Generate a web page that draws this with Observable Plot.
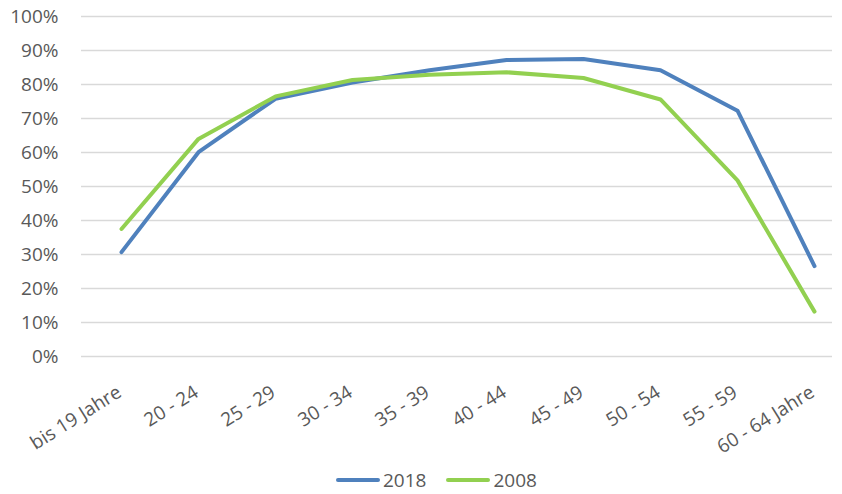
<!DOCTYPE html>
<html>
<head>
<meta charset="utf-8">
<script src="https://cdn.jsdelivr.net/npm/d3@7"></script>
<script src="https://cdn.jsdelivr.net/npm/@observablehq/plot@0.6"></script>
<style>
  body { margin: 0; background: #fff; font-family: "Open Sans", sans-serif; }
  #wrap { position: relative; width: 842px; height: 494px; }
  #legend { position: absolute; left: 336px; top: 467px; display: flex; align-items: center; font-size: 19px; color: #595959; line-height: 26px; height: 26px; }
  .sw { width: 44px; height: 4px; border-radius: 2px; margin-right: 3px; }
  .item { display: flex; align-items: center; margin-right: 20px; }
</style>
</head>
<body>
<div id="wrap">
  <div id="chart"></div>
  <div id="legend"></div>
</div>
<script>
const categories = ["bis 19 Jahre", "20 - 24", "25 - 29", "30 - 34", "35 - 39", "40 - 44", "45 - 49", "50 - 54", "55 - 59", "60 - 64 Jahre"];
const values2018 = [30.7, 60.1, 75.8, 80.6, 84.2, 87.2, 87.5, 84.2, 72.3, 26.6];
const values2008 = [37.5, 64.0, 76.5, 81.3, 82.9, 83.6, 81.9, 75.6, 51.8, 13.2];
const seriesNames = ["2018", "2008"];
const seriesColors = ["#4F81BD", "#92D050"];
const yTicks = [0, 10, 20, 30, 40, 50, 60, 70, 80, 90, 100];

const rows = [];
[values2018, values2008].forEach((vals, si) => {
  vals.forEach((v, i) => rows.push({series: seriesNames[si], cat: categories[i], value: v}));
});

const chart = Plot.plot({
  width: 842,
  height: 462,
  marginTop: 16,
  marginBottom: 106,
  marginLeft: 81,
  marginRight: 10,
  style: {fontFamily: "'Open Sans', sans-serif", fontSize: "19px", color: "#595959", background: "#fff"},
  x: {type: "point", domain: categories, range: [120, 815], padding: 0, axis: null},
  y: {domain: [0, 100], axis: null},
  color: {domain: seriesNames, range: seriesColors},
  marks: [
    Plot.ruleY(yTicks, {stroke: "#d9d9d9", strokeWidth: 1.4}),
    Plot.axisY(yTicks, {tickSize: 0, tickPadding: 23, tickFormat: d => d + "%", fill: "#595959", fontSize: 19, label: null}),
    Plot.text(categories, {x: d => d, frameAnchor: "bottom", dy: 34, dx: -2, rotate: -32, textAnchor: "end", lineAnchor: "middle", fill: "#595959", fontSize: 19}),
    Plot.line(rows, {x: "cat", y: "value", z: "series", stroke: "series", strokeWidth: 4, strokeLinecap: "round", strokeLinejoin: "round"})
  ]
});
document.getElementById("chart").appendChild(chart);

const legend = document.getElementById("legend");
seriesNames.forEach((n, i) => {
  const item = document.createElement("div");
  item.className = "item";
  const sw = document.createElement("div");
  sw.className = "sw";
  sw.style.background = seriesColors[i];
  const t = document.createElement("span");
  t.textContent = n;
  item.appendChild(sw);
  item.appendChild(t);
  legend.appendChild(item);
});
</script>
</body>
</html>
